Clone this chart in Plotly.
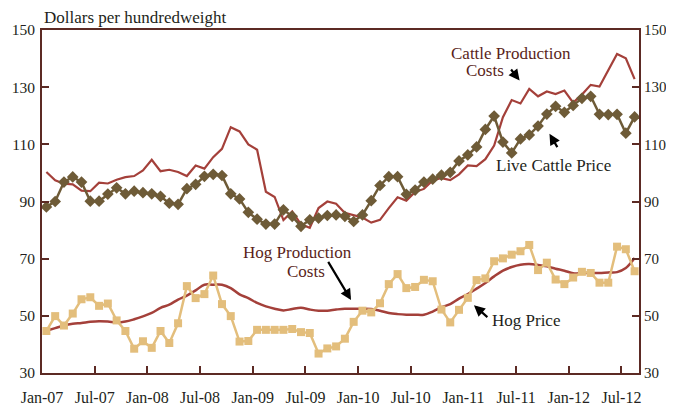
import plotly.graph_objects as go
import pandas as pd

# Monthly observations, Jan-2007 .. Aug-2012
months = [p.strftime("%b-%y") for p in pd.period_range("2007-01", "2012-08", freq="M")]

cattle_costs = [100.3, 97.4, 96.2, 96.0, 93.8, 93.6, 96.6, 96.3, 97.6, 98.5, 98.9, 100.9,
                104.6, 100.6, 101.1, 100.3, 98.9, 102.6, 101.5, 105.5, 108.4, 116.0, 114.5, 110.0,
                108.1, 93.4, 91.6, 83.5, 86.5, 82.0, 80.8, 87.7, 90.0, 89.2, 86.0, 85.3,
                84.4, 82.6, 83.6, 87.7, 91.5, 90.3, 93.3, 94.4, 97.4, 98.2, 97.5, 99.5,
                102.6, 102.4, 104.8, 109.6, 119.5, 125.5, 124.3, 129.4, 126.8, 128.5, 127.6, 128.8,
                124.6, 127.4, 130.8, 130.2, 136.0, 141.6, 140.1, 132.8]

cattle_price = [88.1, 90.0, 96.8, 98.6, 96.8, 90.1, 90.1, 92.6, 94.8, 92.7, 93.6, 93.1,
                92.7, 91.8, 89.4, 89.0, 94.5, 96.0, 98.8, 99.5, 99.1, 92.7, 90.9, 86.2,
                83.8, 82.1, 82.1, 87.1, 84.8, 81.3, 83.6, 84.2, 85.1, 85.3, 84.8, 83.0,
                85.3, 90.3, 95.6, 98.7, 98.7, 92.5, 94.0, 96.8, 97.8, 99.2, 100.2, 104.2,
                106.3, 109.1, 115.2, 119.9, 110.8, 107.0, 111.9, 113.3, 116.4, 120.6, 123.3, 121.2,
                123.6, 126.1, 126.8, 120.5, 120.4, 120.5, 113.9, 119.6]

hog_costs = [44.8, 45.7, 46.6, 47.2, 47.5, 47.9, 48.1, 48.0, 47.7, 48.0, 48.8, 49.8,
             51.0, 52.8, 53.9, 55.7, 57.1, 58.9, 60.9, 60.9, 60.9, 59.7, 57.5, 56.2,
             54.5, 53.3, 52.5, 51.9, 52.4, 52.8, 52.2, 51.8, 51.8, 52.2, 52.5, 52.5,
             52.5, 52.4, 51.8, 51.0, 50.6, 50.4, 50.4, 50.4, 51.5, 53.0, 54.1, 56.0,
             57.6, 59.5, 61.5, 63.8, 65.8, 67.1, 67.9, 68.1, 67.8, 67.3, 66.5, 65.8,
             64.9, 64.9, 65.0, 65.0, 65.2, 65.3, 66.7, 70.2]

hog_price = [44.7, 49.9, 46.6, 50.8, 55.8, 56.5, 53.5, 54.3, 48.4, 44.7, 38.5, 41.1,
             38.8, 44.7, 40.5, 47.4, 60.4, 56.2, 57.6, 64.1, 54.1, 49.9, 41.0, 41.2,
             45.1, 45.1, 45.1, 45.1, 45.4, 44.3, 44.0, 36.8, 38.6, 39.3, 42.0, 47.9,
             51.8, 51.2, 54.4, 61.1, 64.6, 59.7, 60.1, 62.6, 62.1, 52.2, 47.7, 52.1,
             56.3, 62.5, 63.1, 69.1, 70.1, 71.4, 72.6, 74.8, 66.0, 68.6, 62.7, 61.1,
             63.4, 65.4, 65.0, 61.6, 61.6, 74.2, 73.3, 65.6]

tick_labels = ["Jan-07", "Jul-07", "Jan-08", "Jul-08", "Jan-09", "Jul-09", "Jan-10",
               "Jul-10", "Jan-11", "Jul-11", "Jan-12", "Jul-12"]
y_ticks = [30, 50, 70, 90, 110, 130, 150]

# month slot positions: each observation sits in the middle of its month slot
x = [i + 0.5 for i in range(len(months))]
tick_pos = [months.index(m) for m in tick_labels]

RED = "#A4403A"
OLIVE = "#6E5B37"
TAN = "#E3BE7C"
AXIS = "#5C2A24"
TXT = "#231F20"
MAROON = "#5A1F1B"
FONT = "Liberation Serif"

fig = go.Figure()
fig.add_trace(go.Scatter(x=x, y=cattle_costs, mode="lines",
                         line=dict(color=RED, width=2.2), name="Cattle Production Costs"))
fig.add_trace(go.Scatter(x=x, y=hog_costs, mode="lines",
                         line=dict(color=RED, width=2.5, shape="spline", smoothing=1.0),
                         name="Hog Production Costs"))
fig.add_trace(go.Scatter(x=x, y=cattle_price, mode="lines+markers",
                         line=dict(color=OLIVE, width=2.5),
                         marker=dict(symbol="diamond", size=9, color=OLIVE),
                         name="Live Cattle Price"))
fig.add_trace(go.Scatter(x=x, y=hog_price, mode="lines+markers",
                         line=dict(color=TAN, width=2.5),
                         marker=dict(symbol="square", size=8, color=TAN),
                         name="Hog Price"))
# invisible trace to activate the right-hand axis
fig.add_trace(go.Scatter(x=[x[0]], y=[hog_price[0]], yaxis="y2", mode="markers",
                         marker=dict(opacity=0), showlegend=False, hoverinfo="skip"))

# the page body adds an offset, so the figure is sized to the remaining window
fig.update_layout(
    width=666, height=399,
    margin=dict(l=34, r=35, t=22, b=34, autoexpand=False),
    paper_bgcolor="white", plot_bgcolor="white",
    showlegend=False,
    font=dict(family=FONT, size=16, color=TXT),
    xaxis=dict(range=[0, len(months)], tickvals=tick_pos, ticktext=tick_labels,
               ticks="inside", ticklen=7, tickwidth=2, tickcolor=AXIS,
               showline=True, linecolor=AXIS, linewidth=2, mirror=True,
               ticklabelstandoff=9, automargin=False,
               showgrid=False, zeroline=False, tickfont=dict(size=16, color=TXT)),
    yaxis=dict(range=[30, 150], tickvals=y_ticks, ticks="inside", ticklen=7, tickwidth=2,
               tickcolor=AXIS, showline=True, linecolor=AXIS, linewidth=2, automargin=False,
               ticklabelstandoff=2,
               showgrid=False, zeroline=False, tickfont=dict(size=15.5, color=TXT)),
    yaxis2=dict(range=[30, 150], tickvals=y_ticks, overlaying="y", side="right",
                ticks="inside", ticklen=7, tickwidth=2, tickcolor=AXIS,
                showline=True, linecolor=AXIS, linewidth=2, automargin=False,
                showgrid=False, zeroline=False, tickfont=dict(size=15, color=TXT)),
)

fig.add_annotation(xref="x", yref="paper", x=0, y=1, xanchor="left", yanchor="bottom",
                   text="Dollars per hundredweight", showarrow=False,
                   font=dict(size=17, color=TXT), xshift=0, yshift=1)

# Cattle production costs label
fig.add_annotation(x=53.4, y=141.9, xref="x", yref="y", text="Cattle Production",
                   showarrow=False, font=dict(size=17, color=MAROON))
fig.add_annotation(x=50.5, y=136.0, xref="x", yref="y", text="Costs",
                   showarrow=False, font=dict(size=17, color=MAROON))
fig.add_annotation(x=54.4, y=132.3, ax=53.3, ay=136.7, xref="x", yref="y", axref="x", ayref="y",
                   text="", showarrow=True, arrowhead=2, arrowsize=1, arrowwidth=2.2,
                   arrowcolor="black")
# Live cattle price label
fig.add_annotation(x=58.3, y=102.6, xref="x", yref="y", text="Live Cattle Price",
                   showarrow=False, font=dict(size=17, color=TXT))
fig.add_annotation(x=57.8, y=113.7, ax=58.8, ay=108.5, xref="x", yref="y", axref="x", ayref="y",
                   text="", showarrow=True, arrowhead=2, arrowsize=1, arrowwidth=2.2,
                   arrowcolor="black")
# Hog production costs label
fig.add_annotation(x=29.1, y=72.1, xref="x", yref="y", text="Hog Production",
                   showarrow=False, font=dict(size=17, color=MAROON))
fig.add_annotation(x=30.1, y=65.5, xref="x", yref="y", text="Costs",
                   showarrow=False, font=dict(size=17, color=MAROON))
fig.add_annotation(x=35.2, y=55.5, ax=32.5, ay=69.4, xref="x", yref="y", axref="x", ayref="y",
                   text="", showarrow=True, arrowhead=2, arrowsize=1, arrowwidth=2.2,
                   arrowcolor="black")
# Hog price label
fig.add_annotation(x=55.1, y=48.2, xref="x", yref="y", text="Hog Price",
                   showarrow=False, font=dict(size=17, color=TXT))
fig.add_annotation(x=49.2, y=53.7, ax=50.9, ay=49.1, xref="x", yref="y", axref="x", ayref="y",
                   text="", showarrow=True, arrowhead=2, arrowsize=1, arrowwidth=2.2,
                   arrowcolor="black")

fig.write_html("out.html")
